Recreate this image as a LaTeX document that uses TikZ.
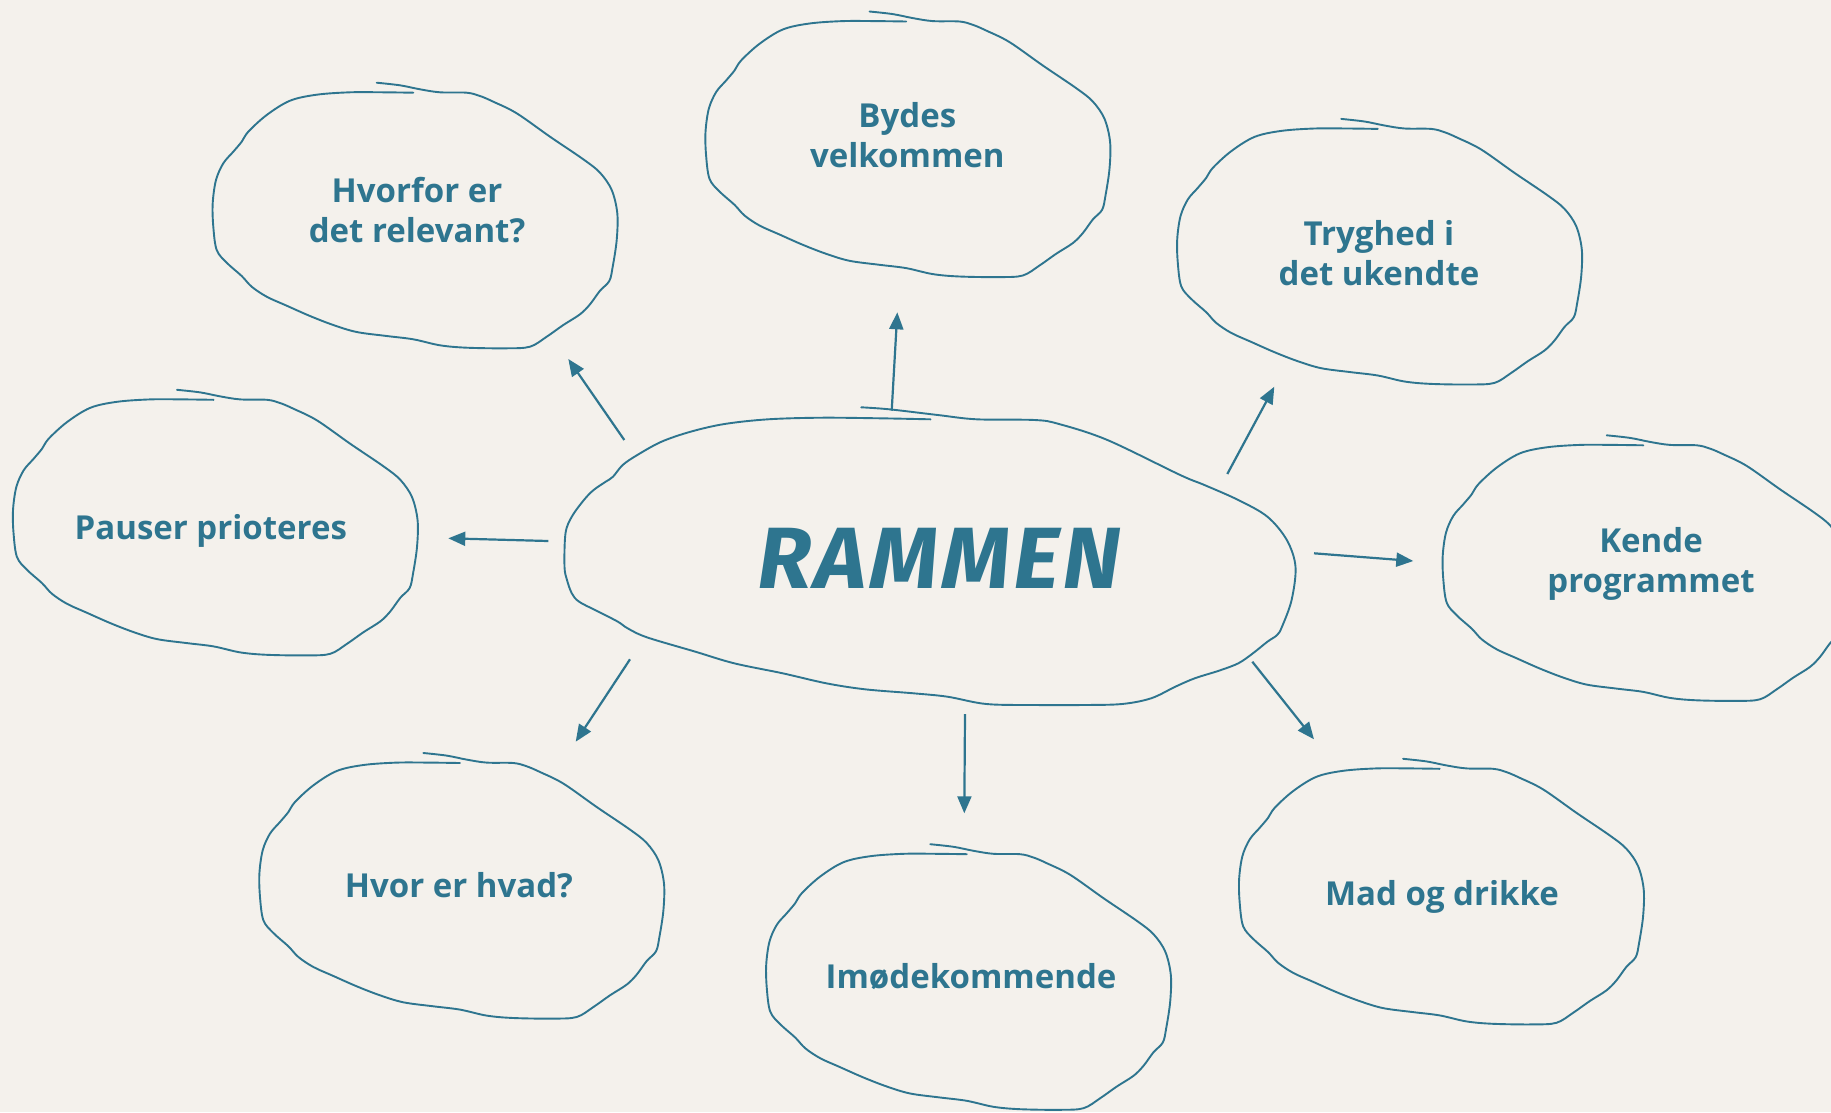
\documentclass[tikz,border=0pt]{standalone}
\usepackage{fontspec}
\setmainfont{Open Sans}
\newfontfamily\handfont{Fira Sans}[FakeSlant=0.15,LetterSpace=4]
\usetikzlibrary{arrows.meta}
\definecolor{ink}{RGB}{46,117,143}
\definecolor{paper}{RGB}{244,241,236}
\tikzset{
  cloudline/.style={draw=ink, line width=1.9pt, line join=round, line cap=round},
  arr/.style={draw=ink, line width=2.2pt, -{Triangle[length=17pt,width=14pt]}},
  lbl/.style={font=\bfseries\fontsize{33}{40}\selectfont, text=ink, align=center, inner sep=0pt},
  smallcloud/.pic={
    \draw[cloudline] plot[smooth, tension=0.55] coordinates {
      (-38.8,-132.8) (-15.5,-130.2) (4.5,-126.2) (24.5,-123.2) (51.2,-122.8)
      (64.5,-119.5) (77.8,-113.8) (101.2,-102.2) (134.5,-78.8) (167.8,-56.2)
      (184.5,-42.8) (196.2,-25.5) (201.8,-2.2) (201.2,24.5) (197.2,51.2)
      (193.8,65.5) (184.5,75.2) (174.5,88.8) (164.5,98.8) (147.8,109.5)
      (131.2,121.2) (114.5,131.2) (91.2,132.8) (51.2,132.2) (24.5,129.8)
      (-2.2,123.8) (-28.8,120.5) (-58.8,116.5) (-82.2,109.5) (-105.5,100.5)
      (-128.8,90.2) (-148.8,81.2) (-163.8,71.2) (-173.8,60.5) (-188.8,47.2)
      (-198.8,34.5) (-202.2,11.2) (-202.8,-12.2) (-199.5,-35.5) (-192.2,-52.2)
      (-182.2,-63.8) (-173.8,-73.8) (-167.2,-83.8) (-148.8,-100.5) (-125.5,-114.8)
      (-98.8,-120.8) (-65.5,-123.2) (-32.2,-123.2) (-2.2,-122.8)};
  }
}
\begin{document}
\begin{tikzpicture}[x=1pt, y=-1pt]
\useasboundingbox (0,0) rectangle (1831,1112);
\fill[paper] (0,0) rectangle (1831,1112);
\clip (0,0) rectangle (1831,1112);

% central cloud
\draw[cloudline] plot[smooth, tension=0.55] coordinates {
  (861.2,407.3) (889.3,409.3) (937.8,415) (976.6,419.3) (1034.7,420) (1059,424)
  (1107.4,440) (1180.2,475) (1204.4,485) (1238.3,500) (1267.4,516.7) (1286.8,540)
  (1295.5,566.7) (1291.6,600) (1282,626.7) (1277.1,635) (1267.4,641.7) (1252.9,653.3)
  (1238.3,663.3) (1218.9,670.7) (1194.7,678.3) (1175.3,686.7) (1151.1,698.3) (1122,704)
  (1083.2,705) (1034.7,705) (986.3,704) (947.5,696.7) (913.5,693.3) (865.1,689.3)
  (826.3,683.3) (782.7,673.3) (734.2,663.3) (695.4,651.7) (646.9,637.3) (627.6,628.3)
  (617.9,621.7) (598.5,611.7) (579.1,601.7) (571.8,593.3) (567,580) (564.5,566.7)
  (565.5,533.3) (571.8,516.7) (583.9,500) (593.6,490) (605.7,481.7) (613,476.7)
  (622.7,465) (637.3,455) (661.5,441.7) (690.6,431.7) (724.5,424) (768.1,419.3)
  (821.4,417.7) (879.6,418.3) (930.5,419.3)};
\node[anchor=base, text=ink, inner sep=0pt, font=\handfont\bfseries\fontsize{87}{90}\selectfont] (center) at (936,588) {RAMMEN};

% small clouds
\pic at (415.5,215.5) {smallcloud};
\pic at (908.3,144.3) {smallcloud};
\pic at (1380,251.7) {smallcloud};
\pic at (215.8,522.6) {smallcloud};
\pic at (1645.5,568.1) {smallcloud};
\pic at (462.2,885.8) {smallcloud};
\pic at (969,977) {smallcloud};
\pic at (1441.9,891.6) {smallcloud};

\node[lbl] (hvorfor) at (417,210.5) {Hvorfor er\\det relevant?};
\node[lbl] (bydes) at (907.3,134.9) {Bydes\\velkommen};
\node[lbl] (tryghed) at (1379,253) {Tryghed i\\det ukendte};
\node[lbl] (pauser) at (210.8,531.3) {Pauser prioteres};
\node[lbl] (kende) at (1651,563.5) {Kende\\programmet};
\node[lbl] (hvor) at (458.9,885.1) {Hvor er hvad?};
\node[lbl] (imode) at (971,976.2) {Imødekommende};
\node[lbl] (mad) at (1442,896.8) {Mad og drikke};

% connector end points
\coordinate (s1) at (624.3,440);   \coordinate (t1) at (568.3,359);
\coordinate (s2) at (891.7,410.7); \coordinate (t2) at (897.3,312.3);
\coordinate (s3) at (1227.3,474);  \coordinate (t3) at (1274.3,386.7);
\coordinate (s4) at (548.3,541);   \coordinate (t4) at (448.3,538.3);
\coordinate (s5) at (1314,553.3);  \coordinate (t5) at (1413.3,561);
\coordinate (s6) at (630,659.3);   \coordinate (t6) at (575.7,741.7);
\coordinate (s7) at (965,714);     \coordinate (t7) at (964.3,813.3);
\coordinate (s8) at (1252.3,661.7);\coordinate (t8) at (1314,739.3);
\foreach \i in {1,...,8} { \draw[arr] (s\i) -- (t\i); }
\end{tikzpicture}
\end{document}
